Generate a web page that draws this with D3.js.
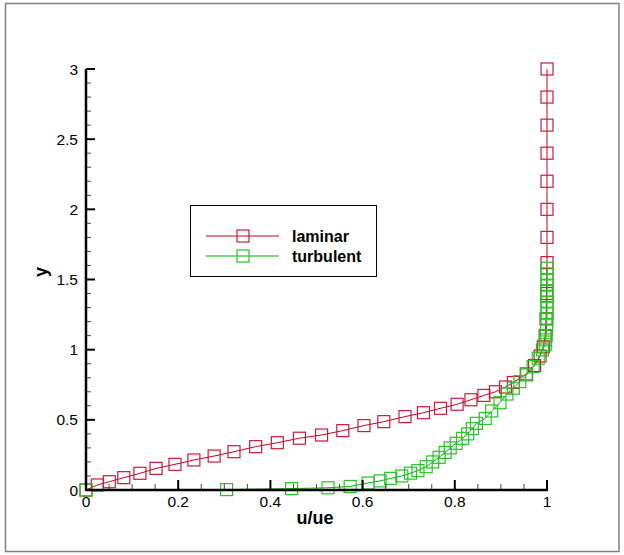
<!DOCTYPE html>
<html>
<head>
<meta charset="utf-8">
<script src="https://cdn.jsdelivr.net/npm/d3@7"></script>
<style>
  html, body { margin: 0; padding: 0; background: #fff; }
  svg { display: block; }
  text { font-family: "Liberation Sans", Arial, Helvetica, sans-serif; }
</style>
</head>
<body>
<svg id="chart" width="624" height="555"></svg>
<script>
// ---- data ----
const laminarU = [0, 0.0245, 0.0505, 0.082, 0.117, 0.152, 0.193, 0.234, 0.278, 0.321, 0.368, 0.415, 0.463, 0.511, 0.557, 0.603, 0.646, 0.692, 0.732, 0.769, 0.805, 0.835, 0.863, 0.888, 0.910, 0.927, 0.955, 0.973, 0.985, 0.992, 0.996, 0.998, 0.999, 1.0, 1.0, 1.0, 1.0, 1.0, 1.0, 1.0, 1.0];
const laminarY = [0, 0.036, 0.059, 0.088, 0.119, 0.154, 0.183, 0.214, 0.242, 0.273, 0.309, 0.337, 0.369, 0.392, 0.423, 0.459, 0.487, 0.523, 0.551, 0.582, 0.611, 0.643, 0.674, 0.700, 0.734, 0.766, 0.827, 0.887, 0.955, 1.02, 1.10, 1.22, 1.40, 1.62, 1.80, 2.0, 2.2, 2.4, 2.6, 2.8, 3.0];

const turbulentU = [0, 0.305, 0.446, 0.525, 0.573, 0.612, 0.638, 0.661, 0.685, 0.704, 0.720, 0.738, 0.752, 0.766, 0.779, 0.790, 0.803, 0.817, 0.828, 0.838, 0.847, 0.866, 0.880, 0.898, 0.913, 0.927, 0.941, 0.956, 0.970, 0.981, 0.990, 0.996, 0.997, 0.998, 0.999, 0.999, 1.0, 1.0, 1.0, 1.0, 1.0, 1.0, 1.0, 1.0, 1.0, 1.0];
const turbulentY = [0, 0.003, 0.010, 0.016, 0.025, 0.050, 0.065, 0.083, 0.100, 0.120, 0.138, 0.166, 0.200, 0.233, 0.268, 0.300, 0.333, 0.368, 0.400, 0.437, 0.475, 0.510, 0.563, 0.622, 0.684, 0.725, 0.772, 0.820, 0.879, 0.939, 0.998, 1.035, 1.07, 1.10, 1.14, 1.18, 1.22, 1.26, 1.30, 1.34, 1.38, 1.42, 1.46, 1.50, 1.54, 1.58];

const xMajorTicks = [0, 0.2, 0.4, 0.6, 0.8, 1];
const xTickLabels = ["0", "0.2", "0.4", "0.6", "0.8", "1"];
const yMajorTicks = [0, 0.5, 1, 1.5, 2, 2.5, 3];
const yTickLabels = ["0", "0.5", "1", "1.5", "2", "2.5", "3"];

const seriesNames = ["laminar", "turbulent"];

// ---- layout ----
const svg = d3.select("#chart");
const x = d3.scaleLinear().domain([0, 1]).range([86, 547]);
const y = d3.scaleLinear().domain([0, 3]).range([490, 69]);

const styles = [
  { line: "#c4001f", marker: "#cc1a3a" },
  { line: "#00b400", marker: "#26c426" }
];
const M = 12; // marker size

// outer frame
svg.append("rect").attr("x", 5.5).attr("y", 3.5).attr("width", 613.5).attr("height", 548)
  .attr("fill", "none").attr("stroke", "#808080").attr("stroke-width", 1.5);

// series
const series = [
  laminarU.map((u, i) => [u, laminarY[i]]),
  turbulentU.map((u, i) => [u, turbulentY[i]])
];
const line = d3.line().x(d => x(d[0])).y(d => y(d[1]));

series.forEach((pts, k) => {
  const g = svg.append("g");
  g.append("path").attr("d", line(pts)).attr("fill", "none")
    .attr("stroke", styles[k].line).attr("stroke-width", 1);
  g.selectAll("rect").data(pts).join("rect")
    .attr("x", d => x(d[0]) - M / 2).attr("y", d => y(d[1]) - M / 2)
    .attr("width", M).attr("height", M)
    .attr("fill", "none").attr("stroke", styles[k].marker).attr("stroke-width", 1.2);
});

// axes
const axG = svg.append("g");
// x minor ticks
const xMinor = d3.range(0, 1.0001, 0.05).filter(v => Math.abs(v * 5 - Math.round(v * 5)) > 1e-6);
axG.selectAll(".xmin").data(xMinor).join("line")
  .attr("x1", d => x(d)).attr("x2", d => x(d)).attr("y1", y(0)).attr("y2", y(0) - 6)
  .attr("stroke", "#444").attr("stroke-width", 1);
axG.selectAll(".xmaj").data(xMajorTicks).join("line")
  .attr("x1", d => x(d)).attr("x2", d => x(d)).attr("y1", y(0)).attr("y2", y(0) - 10)
  .attr("stroke", "#000").attr("stroke-width", 2);
// y minor ticks
const yMinor = d3.range(0, 3.0001, 0.1).filter(v => Math.abs(v * 2 - Math.round(v * 2)) > 1e-6);
axG.selectAll(".ymin").data(yMinor).join("line")
  .attr("x1", x(0)).attr("x2", x(0) + 5).attr("y1", d => y(d)).attr("y2", d => y(d))
  .attr("stroke", "#444").attr("stroke-width", 1);
axG.selectAll(".ymaj").data(yMajorTicks).join("line")
  .attr("x1", x(0)).attr("x2", x(0) + 9).attr("y1", d => y(d)).attr("y2", d => y(d))
  .attr("stroke", "#000").attr("stroke-width", 2);
// axis lines
axG.append("line").attr("x1", x(0)).attr("x2", x(1) + 1).attr("y1", y(0)).attr("y2", y(0))
  .attr("stroke", "#000").attr("stroke-width", 2.5);
axG.append("line").attr("x1", x(0)).attr("x2", x(0)).attr("y1", y(0) + 1).attr("y2", y(3))
  .attr("stroke", "#000").attr("stroke-width", 2.5);

// tick labels
axG.selectAll(".xl").data(xMajorTicks).join("text")
  .attr("x", d => x(d)).attr("y", y(0) + 17).attr("text-anchor", "middle")
  .attr("font-size", 15.5).attr("fill", "#000").text((d, i) => xTickLabels[i]);
axG.selectAll(".yl").data(yMajorTicks).join("text")
  .attr("x", x(0) - 8).attr("y", d => y(d) + 5.5).attr("text-anchor", "end")
  .attr("font-size", 15.5).attr("fill", "#000").text((d, i) => yTickLabels[i]);

// axis titles
svg.append("text").attr("x", 315).attr("y", 524).attr("text-anchor", "middle")
  .attr("font-size", 18).attr("font-weight", "bold").text("u/ue");
svg.append("text").attr("transform", "translate(47,272) rotate(-90)").attr("text-anchor", "middle")
  .attr("font-size", 18).attr("font-weight", "bold").text("y");

// legend
const lg = svg.append("g");
lg.append("rect").attr("x", 190.5).attr("y", 205.5).attr("width", 186).attr("height", 71)
  .attr("fill", "#fff").attr("stroke", "#000").attr("stroke-width", 1);
seriesNames.forEach((name, k) => {
  const cy = 236 + k * 20;
  lg.append("line").attr("x1", 206).attr("x2", 279).attr("y1", cy).attr("y2", cy)
    .attr("stroke", styles[k].line).attr("stroke-width", 1);
  lg.append("rect").attr("x", 243 - M / 2).attr("y", cy - M / 2).attr("width", M).attr("height", M)
    .attr("fill", "none").attr("stroke", styles[k].marker).attr("stroke-width", 1.2);
  lg.append("text").attr("x", 292).attr("y", cy + 5.5).attr("font-size", 16).attr("font-weight", "bold")
    .text(name);
});
</script>
</body>
</html>
